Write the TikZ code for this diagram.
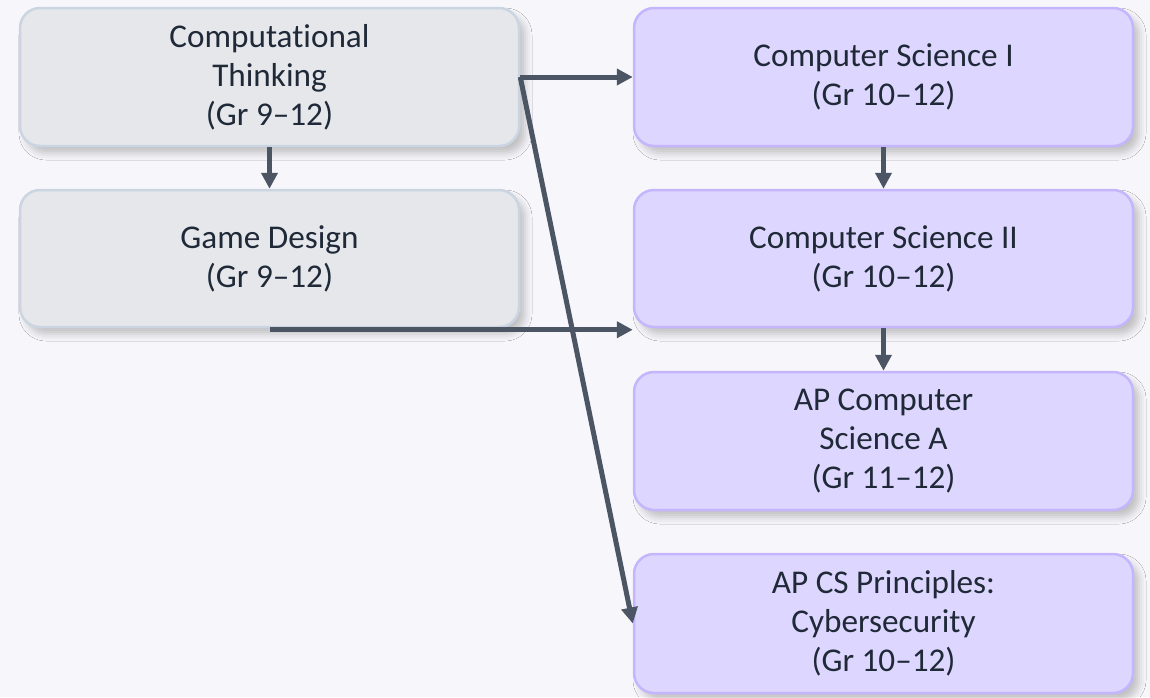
\documentclass[tikz,border=0pt]{standalone}
\usepackage{fontspec}
\setmainfont{Carlito}[Ligatures=NoCommon]
\usetikzlibrary{arrows.meta,shadows.blur}
\definecolor{bg}{HTML}{F7F7FB}
\definecolor{grayfill}{HTML}{E5E7EB}
\definecolor{graydraw}{HTML}{CBD5E1}
\definecolor{purpfill}{HTML}{DDD6FE}
\definecolor{purpdraw}{HTML}{C4B5FD}
\definecolor{txt}{HTML}{1F2937}
\definecolor{arr}{HTML}{4B5563}
\tikzset{
  box/.style={rectangle, rounded corners=20pt, line width=2.5pt,
    minimum width=499pt, minimum height=138pt, align=center,
    text=txt, font=\fontsize{33.2pt}{39pt}\selectfont,
    blur shadow={shadow xshift=6pt, shadow yshift=-7pt, shadow blur radius=7pt, shadow opacity=22}},
  graybox/.style={box, fill=grayfill, draw=graydraw},
  purpbox/.style={box, fill=purpfill, draw=purpdraw},
  conn/.style={draw=arr, line width=5pt, -{Triangle[length=16pt,width=16pt]}}
}
\begin{document}
\begin{tikzpicture}[x=1pt,y=-1pt]
\fill[bg] (0,0) rectangle (1150,697);
\useasboundingbox (0,0) rectangle (1150,697);
\node[graybox] (ct) at (269.5,77) {Computational\\Thinking\\(Gr 9–12)};
\node[graybox, minimum height=137pt] (gd) at (269.5,258.5) {Game Design\\(Gr 9–12)};
\node[purpbox] (cs1) at (883.5,77) {Computer Science I\\(Gr 10–12)};
\node[purpbox, minimum height=137pt] (cs2) at (883.5,258.5) {Computer Science II\\(Gr 10–12)};
\node[purpbox] (csa) at (883.5,441) {AP Computer\\Science A\\(Gr 11–12)};
\node[purpbox, minimum height=139pt] (csp) at (883.5,623.5) {AP CS Principles:\\Cybersecurity\\(Gr 10–12)};
\draw[conn] (ct.south) -- (gd.north);
\draw[conn] (cs1.south) -- (cs2.north);
\draw[conn] (cs2.south) -- (csa.north);
\draw[conn] (ct.east) -- (cs1.west);
\draw[conn] (ct.east) -- (csp.west);
\coordinate (gdstart) at ([yshift=-1.5pt]gd.south);
\draw[conn] (gdstart) -- (gdstart -| cs2.west);
\end{tikzpicture}
\end{document}
